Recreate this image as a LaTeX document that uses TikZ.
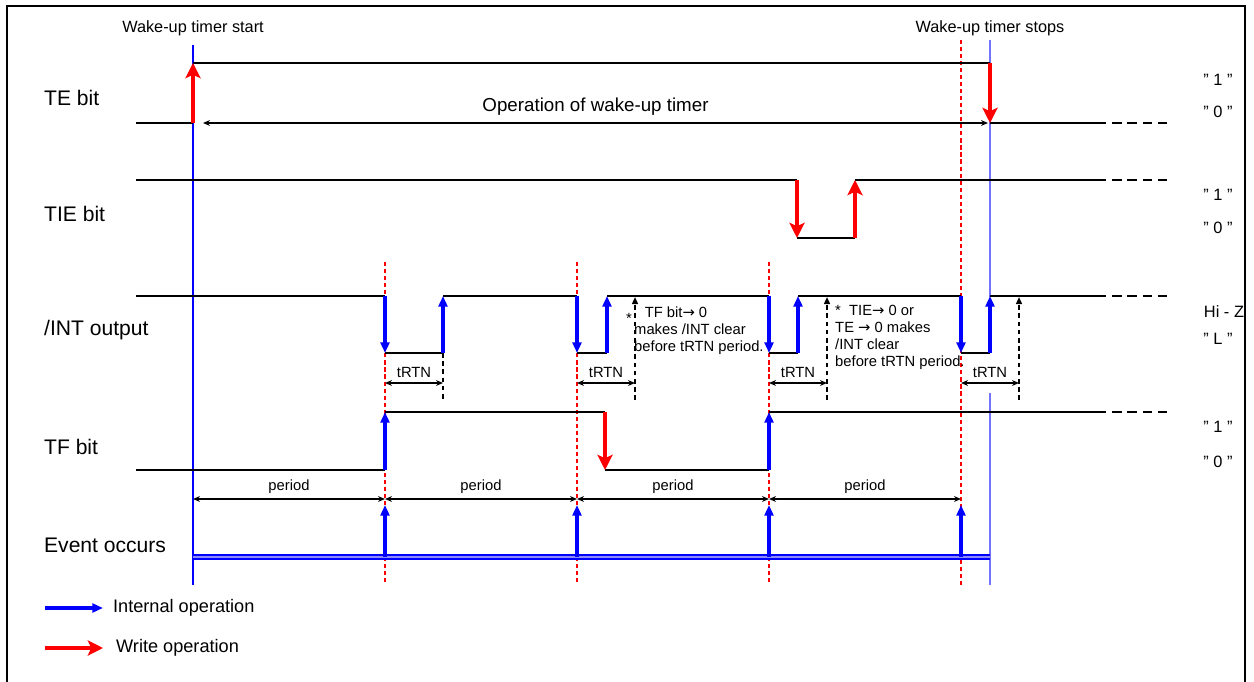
\documentclass[tikz,border=0pt]{standalone}
\usepackage{fontspec}
\setmainfont{Liberation Sans}
\newfontfamily\arrowfont{DejaVu Sans}
\usetikzlibrary{arrows.meta}

\begin{document}
\begin{tikzpicture}[x=0.03cm, y=-0.03cm,
    level/.style={line width=1.4pt},
    tail/.style={line width=2.4pt, dash pattern=on 8pt off 5pt},
    wrarrow/.style={red, line width=3.4pt, -{Stealth[length=13pt, width=13pt, inset=3pt]}},
    inarrow/.style={blue, line width=3pt, -{Triangle[length=9pt, width=7.5pt]}},
    tick/.style={red, line width=1.1pt, dash pattern=on 3.5pt off 2.5pt},
    dim/.style={line width=1pt, {Stealth[length=6pt, width=5pt]}-{Stealth[length=6pt, width=5pt]}},
    hold/.style={line width=1.6pt, dash pattern=on 4pt off 3pt},
    signame/.style={anchor=west, font=\fontsize{18}{21}\selectfont},
    value/.style={font=\fontsize{14}{16}\selectfont},
    note/.style={font=\fontsize{12.6}{14.5}\selectfont}]

    % Frame and page size
    \useasboundingbox (0,0) rectangle (1254,682);
    \draw[line width=2.4pt] (7,700) -- (7,6) -- (1245,6) -- (1245,700);

    % Draw the time marks
    \foreach \x in {385,577,769}
        \draw[tick] (\x,262) -- (\x,585);
    \draw[tick] (961,40) -- (961,585);
    \draw[blue, line width=1pt] (193,45) -- (193,585);
    \draw[blue!55, line width=1.2pt] (990,40) -- (990,297) (990,393) -- (990,585);

    % Place the top labels
    \node[font=\fontsize{13.9}{16}\selectfont] (start) at (193,28) {Wake-up timer start};
    \node[font=\fontsize{13.9}{16}\selectfont] (stop) at (990,28) {Wake-up timer stops};

    % TE bit
    \node[signame] (te) at (40,98) {TE bit};
    \draw[level] (136,123) -- (193,123) (193,63) -- (990,63) (990,123) -- (1097,123);
    \draw[tail] (1097,123) -- (1172,123);
    \draw[dim] (203,123) -- (988,123) node[midway, above=3pt, font=\fontsize{16}{18}\selectfont] (op) {Operation of wake-up timer};
    \draw[wrarrow] (193,123) -- (193,63);
    \draw[wrarrow] (990,63) -- (990,123);
    \node[value] (te1) at (1218,80) {" 1 "};
    \node[value] (te0) at (1218,112) {" 0 "};

    % TIE bit
    \node[signame] (tie) at (40,214) {TIE bit};
    \draw[level] (136,180) -- (797,180) (797,238) -- (855,238) (855,180) -- (1097,180);
    \draw[tail] (1097,180) -- (1172,180);
    \draw[wrarrow] (797,180) -- (797,238);
    \draw[wrarrow] (855,238) -- (855,180);
    \node[value] (tie1) at (1218,195) {" 1 "};
    \node[value] (tie0) at (1218,228) {" 0 "};

    % /INT output
    \node[signame] (int) at (40,330) {/INT output};
    \draw[level] (136,296) -- (385,296) (385,353) -- (443,353) (443,296) -- (577,296)
        (577,353) -- (607,353) (607,296) -- (769,296) (769,353) -- (798,353)
        (798,296) -- (961,296) (961,353) -- (990,353) (990,296) -- (1097,296);
    \draw[tail] (1097,296) -- (1172,296);
    \foreach \x in {385,577,769,961}
        \draw[inarrow] (\x,296) -- (\x,353);
    \foreach \x in {443,607,798,990}
        \draw[inarrow] (\x,353) -- (\x,296);
    \draw[hold] (443,353) -- (443,400);
    \foreach \x in {635,827,1019}
        \draw[hold, -{Triangle[length=6pt, width=5pt]}] (\x,400) -- (\x,297);
    \foreach \x/\y in {385/443,577/635,769/827,961/1019}
        \draw[dim] (\x,383) -- (\y,383) node[midway, above=1pt, note] {tRTN};
    \node[note] (star1) at (629,318) {*};
    \node[note, anchor=north west, align=left, inner sep=0pt] (tfnote) at (634,307)
        {\hspace{9pt}TF bit{\arrowfont→} 0\\makes /INT clear\\before tRTN period.};
    \node[note, anchor=north west, align=left, inner sep=0pt] (tienote) at (835,305)
        {*\ \ TIE{\arrowfont→} 0 or\\TE {\arrowfont→} 0 makes\\/INT clear\\before tRTN period.};
    \node[value] (hiz) at (1224,312) {Hi - Z};
    \node[value] (low) at (1218,339) {" L "};

    % TF bit
    \node[signame] (tf) at (40,447) {TF bit};
    \draw[level] (136,470) -- (385,470) (385,412) -- (605,412) (605,470) -- (769,470) (769,412) -- (1097,412);
    \draw[tail] (1097,412) -- (1172,412);
    \draw[inarrow] (385,470) -- (385,412);
    \draw[wrarrow] (605,412) -- (605,470);
    \draw[inarrow] (769,470) -- (769,412);
    \node[value] (tf1) at (1218,427) {" 1 "};
    \node[value] (tf0) at (1218,462) {" 0 "};

    % Periods
    \foreach \x/\y in {193/385,385/577,577/769,769/961}
        \draw[dim] (\x,499) -- (\y,499) node[midway, above=1pt, note] {period};

    % Event occurs
    \node[signame] (ev) at (40,545) {Event occurs};
    \draw[blue, line width=1.8pt, double=blue!45, double distance=1pt] (193,557) -- (990,557);
    \foreach \x in {385,577,769,961}
        \draw[inarrow] (\x,557) -- (\x,505);

    % Legend
    \draw[inarrow, line width=2.6pt] (45,608) -- (103,608);
    \node[anchor=west, font=\fontsize{15.5}{18}\selectfont] (intop) at (109,608) {Internal operation};
    \draw[wrarrow] (45,648) -- (103,648);
    \node[anchor=west, font=\fontsize{15.5}{18}\selectfont] (wrop) at (112,648) {Write operation};

\end{tikzpicture}
\end{document}
